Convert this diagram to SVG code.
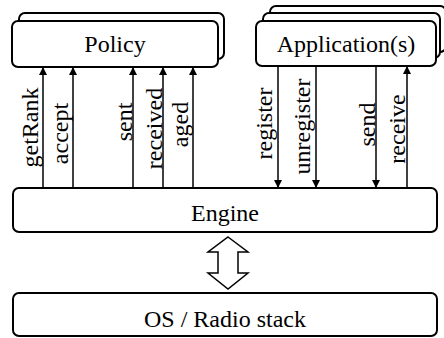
<svg xmlns="http://www.w3.org/2000/svg" width="444" height="338" viewBox="0 0 444 338">
<style>
.box{fill:#fff;stroke:#000;stroke-width:2}
text{font-family:'Liberation Serif','Times New Roman',serif;font-size:24px;fill:#000;text-anchor:middle}
.c{stroke:#000;stroke-width:1.5;fill:none}
</style>
<defs>
<marker id="ah" viewBox="0 0 10 10" refX="10" refY="5" markerWidth="8" markerHeight="8" markerUnits="userSpaceOnUse" orient="auto">
<path d="M0,0 L10,5 L0,10 z" fill="#000"/>
</marker>
</defs>
<rect width="444" height="338" fill="#fff"/>
<g id="policy">
<rect class="box" x="19" y="13" width="205" height="46" rx="6"/>
<rect class="box" x="12" y="21" width="206" height="46" rx="6"/>
<text x="115" y="52">Policy</text>
</g>
<g id="application">
<rect class="box" x="270" y="6" width="176" height="46" rx="6"/>
<rect class="box" x="263" y="13" width="177" height="45" rx="6"/>
<rect class="box" x="256" y="21" width="180" height="45" rx="6"/>
<text x="346" y="52">Application(s)</text>
</g>
<g id="engine">
<rect class="box" x="13" y="188" width="424" height="44" rx="6"/>
<text x="225" y="221">Engine</text>
</g>
<g id="os">
<rect class="box" x="13" y="293" width="424" height="43" rx="6"/>
<text x="225" y="327">OS / Radio stack</text>
</g>
<g id="connectors">
<line class="c" x1="43" y1="188" x2="43" y2="67" marker-end="url(#ah)"/>
<line class="c" x1="73" y1="188" x2="73" y2="67" marker-end="url(#ah)"/>
<line class="c" x1="133" y1="188" x2="133" y2="67" marker-end="url(#ah)"/>
<line class="c" x1="163" y1="188" x2="163" y2="67" marker-end="url(#ah)"/>
<line class="c" x1="193" y1="188" x2="193" y2="67" marker-end="url(#ah)"/>
<line class="c" x1="278" y1="66" x2="278" y2="188" marker-end="url(#ah)"/>
<line class="c" x1="316" y1="66" x2="316" y2="188" marker-end="url(#ah)"/>
<line class="c" x1="376" y1="66" x2="376" y2="188" marker-end="url(#ah)"/>
<line class="c" x1="407" y1="188" x2="407" y2="66" marker-end="url(#ah)"/>
<polygon points="228,237 248,252 238,252 238,273 248,273 228,289 208,273 218,273 218,252 208,252" fill="#fff" stroke="#000" stroke-width="1.5"/>
<text transform="translate(37.5,127.5) rotate(-90)">getRank</text>
<text transform="translate(67.5,133.5) rotate(-90)">accept</text>
<text transform="translate(131.5,122) rotate(-90)">sent</text>
<text transform="translate(161.5,128.5) rotate(-90)">received</text>
<text transform="translate(187.5,124.5) rotate(-90)">aged</text>
<text transform="translate(272,123.5) rotate(-90)">register</text>
<text transform="translate(310,126.5) rotate(-90)">unregister</text>
<text transform="translate(374.5,124.5) rotate(-90)">send</text>
<text transform="translate(405,129) rotate(-90)">receive</text>
</g>
</svg>
